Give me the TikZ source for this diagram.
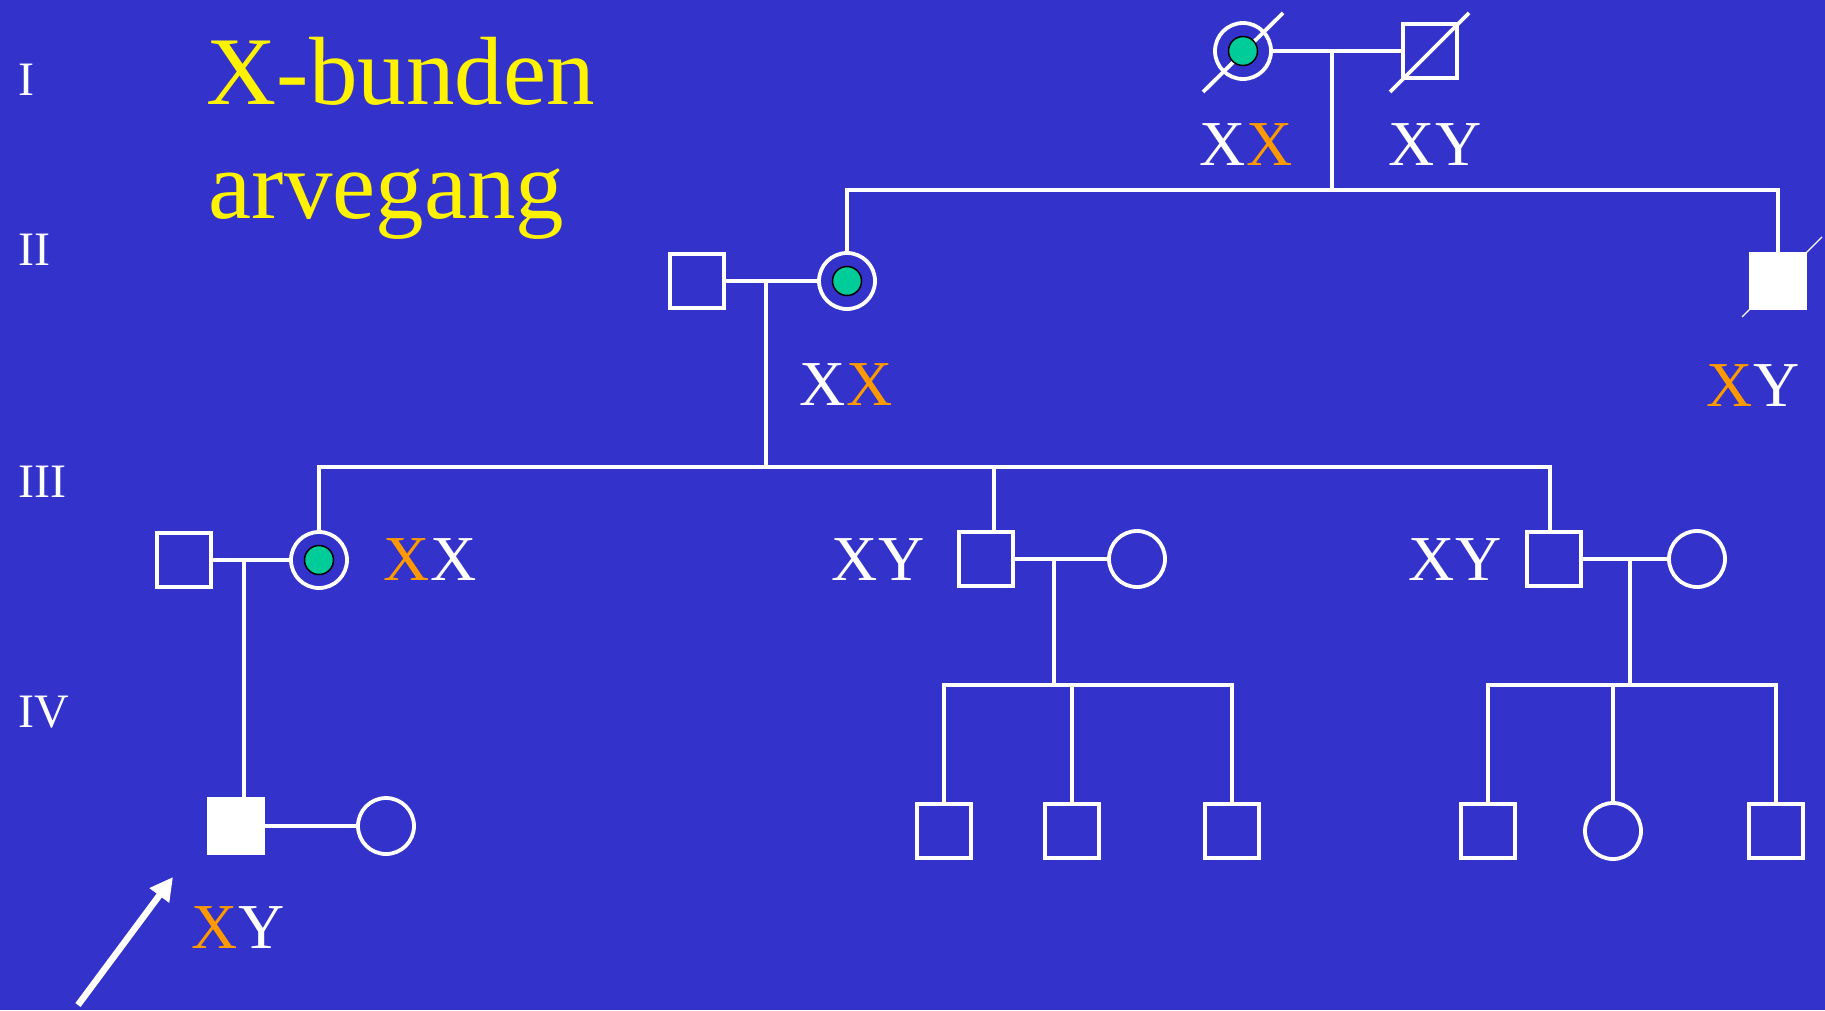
\documentclass[tikz,border=0pt]{standalone}
\usepackage{fontspec}
\setmainfont{Liberation Serif}
\usetikzlibrary{arrows.meta}

\definecolor{slideblue}{RGB}{51,51,204}
\definecolor{carriergreen}{RGB}{0,204,153}
\definecolor{xorange}{RGB}{255,153,0}
\newcommand{\ox}{\textcolor{xorange}{X}}

\begin{document}
\begin{tikzpicture}[x=1pt,y=-1pt,color=white,line width=3.8pt,
  male/.style={rectangle,draw=white,line width=3.8pt,minimum size=54pt,inner sep=0pt},
  female/.style={circle,draw=white,line width=3.8pt,minimum size=56pt,inner sep=0pt},
  affected/.style={male,fill=white},
  dot/.style={circle,fill=carriergreen,draw=black,line width=1.5pt,minimum size=29pt,inner sep=0pt},
  geno/.style={text=white,font=\fontsize{64}{64}\selectfont,inner sep=0pt,anchor=base},
  gen/.style={text=white,font=\fontsize{48}{48}\selectfont,inner sep=0pt,anchor=base west},
  title/.style={text=yellow,font=\fontsize{97}{97}\selectfont,inner sep=0pt,anchor=base west}]

\path[use as bounding box,fill=slideblue] (0,0) rectangle (1825,1010);

\node[title] (t1) at (205,104) {X-bunden};
\node[title] (t2) at (207,218) {arvegang};

\node[gen] (gI) at (17,95) {I};
\node[gen] (gII) at (17,265) {II};
\node[gen] (gIII) at (17,497) {III};
\node[gen] (gIV) at (17,727) {IV};

% generation I
\node[female] (i1) at (1243,51) {};
\node[male] (i2) at (1430,51) {};
\draw (i1) ++(-40,41) -- ++(80,-79);
\draw (i2) ++(-40,41) -- ++(79,-79);
\node[dot] (i1d) at (i1) {};

% generation II
\node[male] (ii1) at (697,281) {};
\node[female] (ii2) at (847,281) {};
\node[dot] (ii2d) at (ii2) {};
\node[affected] (ii3) at (1778,281) {};
\draw[line width=1.2pt] (ii3) ++(-36,36) -- ++(80,-80);

% generation III
\node[male] (iii1) at (184,560) {};
\node[female] (iii2) at (319,560) {};
\node[dot] (iii2d) at (iii2) {};
\node[male] (iii3) at (986,559) {};
\node[female] (iii4) at (1137,559) {};
\node[male] (iii5) at (1554,559) {};
\node[female] (iii6) at (1697,559) {};

% generation IV
\node[affected] (iv1) at (236,826) {};
\node[female] (iv2) at (386,826) {};
\node[male] (iv3) at (944,831) {};
\node[male] (iv4) at (1072,831) {};
\node[male] (iv5) at (1232,831) {};
\node[male] (iv6) at (1488,831) {};
\node[female] (iv7) at (1613,831) {};
\node[male] (iv8) at (1776,831) {};

% partner lines
\draw (i1) -- (i2);
\draw (ii1) -- (ii2);
\draw (iii1) -- (iii2);
\draw (iii3) -- (iii4);
\draw (iii5) -- (iii6);
\draw (iv1) -- (iv2);

% descent and sibship lines
\coordinate (m1) at (1332,51);
\coordinate (s1) at (1332,190);
\draw (m1) -- (s1);
\draw (ii2) |- (s1) -| (ii3);

\coordinate (m2) at (766,281);
\coordinate (s2) at (766,467);
\draw (m2) -- (s2);
\draw (iii2) |- (s2) -| ([xshift=-4pt]iii5.north);
\draw ([xshift=8pt]iii3.north) -- ([xshift=8pt]iii3.north |- s2);

\coordinate (m3) at (244,560);
\draw (m3) -- (m3 |- iv1.north);

\coordinate (m4) at (1054,559);
\coordinate (s4) at (1054,685);
\draw (m4) -- (s4);
\draw (iv3) |- (s4) -| (iv5);
\draw (iv4) -- (iv4 |- s4);

\coordinate (m5) at (1630,559);
\coordinate (s5) at (1630,685);
\draw (m5) -- (s5);
\draw (iv6) |- (s5) -| (iv8);
\draw (iv7) -- (iv7 |- s5);

% genotypes
\node[geno] (gi1) at (1246,165) {X\ox};
\node[geno] (gi2) at (1435,165) {XY};
\node[geno] (gii2) at (846,405) {X\ox};
\node[geno] (gii3) at (1753,406) {\ox Y};
\node[geno] (giii2) at (430,580) {\ox X};
\node[geno] (giii3) at (878,580) {XY};
\node[geno] (giii5) at (1455,580) {XY};
\node[geno] (giv1) at (238,948) {\ox Y};

% proband
\coordinate (ptail) at (78,1005);
\coordinate (ptip) at (173,877);
\draw[line width=6.5pt,-{Triangle[length=23pt,width=23pt]}] (ptail) -- (ptip);

\end{tikzpicture}
\end{document}
